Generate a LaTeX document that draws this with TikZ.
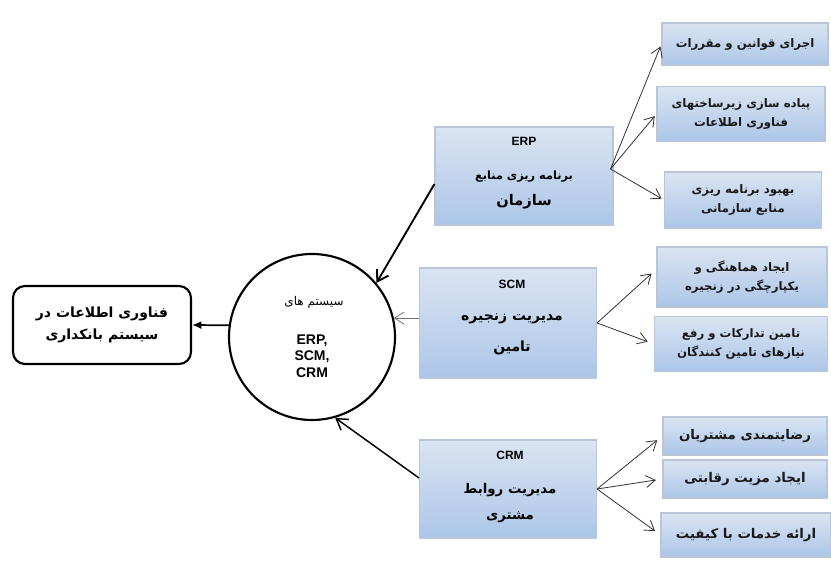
\documentclass[tikz,border=0pt]{standalone}
\usepackage{fontspec}
\usetikzlibrary{arrows.meta,calc,shadows}
\TeXXeTstate=1
\newfontfamily\fafont[Script=Arabic]{DejaVu Sans}
\newfontfamily\latfont{Liberation Sans}
\newcommand\fa[1]{\beginR #1\endR}
\definecolor{boxtop}{RGB}{218,228,242}
\definecolor{boxmid}{RGB}{242,246,251}
\definecolor{boxbot}{RGB}{172,198,232}
\definecolor{boxedge}{RGB}{185,198,218}
\definecolor{arr}{RGB}{50,50,55}
\tikzset{
  gbox/.style={draw=boxedge, line width=0.8pt, top color=boxtop, middle color=boxmid, bottom color=boxbot,
     minimum width=#1, align=center, inner sep=2pt, font=\fafont\bfseries, text=black!90},
  sub/.style={-{Straight Barb[length=7pt,width=9pt]}, draw=arr, line width=0.6pt, shorten >=5pt},
}
\begin{document}
\begin{tikzpicture}[x=0.75pt,y=-0.75pt]
\useasboundingbox (0,0) rectangle (831,560);
\fill[white] (0,0) rectangle (831,560);
% left box
\node[draw, line width=1.6pt, rounded corners=9pt, minimum width=178*0.75pt, minimum height=78*0.75pt,
  align=center, font=\fafont\bfseries\fontsize{10.5}{17}\selectfont] (lbox) at (102,325)
  {\fa{فناوری اطلاعات در}\\\fa{سیستم بانکداری}};
% circle
\node[draw, circle, line width=1.6pt, minimum size=166*0.75pt, inner sep=0pt] (circ) at (312,337) {};
\node[font=\fafont\fontsize{9}{10}\selectfont] (ct) at (314,302) {\fa{سیستم های}};
\node[font=\latfont\bfseries\fontsize{10.5}{12.5}\selectfont, align=center] (cl) at (312,356) {ERP,\\SCM,\\CRM};
% middle boxes
\node[gbox=178*0.75pt, minimum height=98*0.75pt] (erp) at (524,176) {};
\node[font=\latfont\bfseries\fontsize{9}{10}\selectfont] at (524,141) {ERP};
\node[font=\fafont\bfseries\fontsize{8.5}{10}\selectfont] at (524,177) {\fa{برنامه ریزی منابع}};
\node[font=\fafont\bfseries\fontsize{11}{12}\selectfont] at (524,202) {\fa{سازمان}};

\node[gbox=177*0.75pt, minimum height=110*0.75pt] (scm) at (508,323) {};
\node[font=\latfont\bfseries\fontsize{9}{10}\selectfont] at (512,284) {SCM};
\node[font=\fafont\bfseries\fontsize{10.5}{12}\selectfont] at (512,319) {\fa{مدیریت زنجیره}};
\node[font=\fafont\bfseries\fontsize{10.5}{12}\selectfont] at (512,348) {\fa{تامین}};

\node[gbox=177*0.75pt, minimum height=98*0.75pt] (crm) at (508,489) {};
\node[font=\latfont\bfseries\fontsize{9}{10}\selectfont] at (510,455) {CRM};
\node[font=\fafont\bfseries\fontsize{10}{12}\selectfont] at (510,490) {\fa{مدیریت روابط}};
\node[font=\fafont\bfseries\fontsize{10}{12}\selectfont] at (510,517) {\fa{مشتری}};

% right boxes
\node[gbox=166*0.75pt, minimum height=42*0.75pt, font=\fafont\bfseries\fontsize{8.8}{13}\selectfont] (b1) at (745,44) {\fa{اجرای قوانین و مقررات}};
\node[gbox=168*0.75pt, minimum height=55*0.75pt, font=\fafont\bfseries\fontsize{8.8}{14}\selectfont] (b2) at (741,114) {\fa{پیاده سازی زیرساختهای}\\\fa{فناوری اطلاعات}};
\node[gbox=157*0.75pt, minimum height=56*0.75pt, font=\fafont\bfseries\fontsize{8.8}{14}\selectfont] (b3) at (743,200) {\fa{بهبود برنامه ریزی}\\\fa{منابع سازمانی}};
\node[gbox=170*0.75pt, minimum height=60*0.75pt, font=\fafont\bfseries\fontsize{8.8}{14}\selectfont] (b4) at (742,277) {\fa{ایجاد هماهنگی و}\\\fa{یکپارچگی در زنجیره}};
\node[gbox=173*0.75pt, minimum height=55*0.75pt, font=\fafont\bfseries\fontsize{8.8}{14}\selectfont] (b5) at (741,344) {\fa{تامین تدارکات و رفع}\\\fa{نیازهای تامین کنندگان}};
\node[gbox=164*0.75pt, minimum height=38*0.75pt, font=\fafont\bfseries\fontsize{10}{13}\selectfont] (b6) at (745,436) {\fa{رضایتمندی مشتریان}};
\node[gbox=164*0.75pt, minimum height=38*0.75pt, font=\fafont\bfseries\fontsize{10}{13}\selectfont] (b7) at (745,479) {\fa{ایجاد مزیت رقابتی}};
\node[gbox=170*0.75pt, minimum height=44*0.75pt, font=\fafont\bfseries\fontsize{10}{13}\selectfont] (b8) at (746,535) {\fa{ارائه خدمات با کیفیت}};

% arrows to circle and left box
\draw[-{Latex[length=7pt,width=6pt]}, line width=1.3pt] (circ.172) -- (lbox.east);
\draw[-{Straight Barb[length=8pt,width=10pt]}, line width=1.4pt] ($(erp.west)+(0,8)$) -- (circ.40);
\draw[-{Straight Barb[length=7pt,width=9pt]}, line width=0.6pt, draw=black!55] (scm.west |- circ.13) -- (circ.13);
\draw[-{Straight Barb[length=8pt,width=10pt]}, line width=1.1pt] ($(crm.west)+(0,-11)$) -- (circ.-74);

% arrows to right boxes
\coordinate (eo) at ($(erp.east)+(-3,-7)$);
\draw[sub, shorten >=2pt] (eo) -- (b1.west);
\draw[sub, shorten >=2pt] (eo) -- (b2.west);
\draw[sub, shorten >=2pt] (eo) -- (b3.west);
\draw[sub] (scm.east) -- ($(b4.west)+(0,-8)$);
\draw[sub] (scm.east) -- (b5.west);
\draw[sub] (crm.east) -- (b6.west);
\draw[sub] (crm.east) -- (b7.west);
\draw[sub] (crm.east) -- (b8.west);
\end{tikzpicture}
\end{document}
